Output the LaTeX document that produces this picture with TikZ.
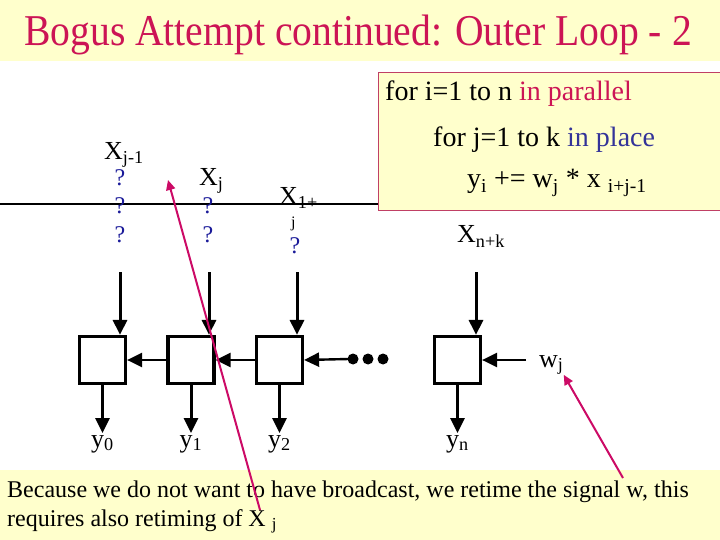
\documentclass[tikz,border=0pt]{standalone}
\usepackage{fontspec}
\setmainfont{Liberation Serif}
\newfontfamily\titulo{Liberation Serif}[FakeStretch=0.9]
\usetikzlibrary{arrows.meta}
\definecolor{fondo}{HTML}{FFFFCC}
\definecolor{carmin}{HTML}{CC1455}
\definecolor{borde}{HTML}{C04065}
\definecolor{rosa}{HTML}{CC0A66}
\definecolor{azul}{HTML}{333399}
\definecolor{pregunta}{HTML}{1A1A99}
\tikzset{
	celda/.style={draw, line width=3.2pt, minimum width=46pt, minimum height=47pt, inner sep=0pt},
	flecha/.style={line width=3pt, -{Triangle[length=15pt,width=14pt]}},
	guia/.style={rosa, line width=2pt, -{Triangle[length=10pt,width=9pt]}},
	etiqueta/.style={anchor=base west, inner sep=0pt, font=\fontsize{26}{26}\selectfont},
	salida/.style={anchor=north, inner sep=2pt, font=\fontsize{26}{26}\selectfont},
	marca/.style={anchor=base, inner sep=0pt, text=pregunta, font=\fontsize{24}{24}\selectfont},
	codigo/.style={anchor=base west, inner sep=0pt, font=\fontsize{28}{28}\selectfont},
	nota/.style={anchor=base west, inner sep=0pt, font=\fontsize{24}{24}\selectfont}
}
\begin{document}
\begin{tikzpicture}[x=1pt, y=-1pt]
	\useasboundingbox (0,0) rectangle (720,540);
	\fill[white] (0,0) rectangle (720,540);
	\fill[fondo] (0,0) rectangle (720,61);
	\fill[fondo] (0,470) rectangle (720,540);
	\node[anchor=base, inner sep=0pt, text=carmin, font=\titulo\fontsize{44}{44}\selectfont] (titulo) at (358,46)
		{Bogus Attempt continued: Outer Loop - 2};

	\draw[line width=1.2pt] (0,204) -- (378,204);
	\node[draw=borde, fill=fondo, line width=1.2pt, minimum width=345pt, minimum height=138pt,
	      anchor=north west, inner sep=0pt] (bucle) at (378,72) {};
	\node[codigo] (linea1) at (385,101) {for i=1 to n {\color{carmin}in parallel}};
	\node[codigo] (linea2) at (433,147) {for j=1 to k {\color{azul}in place}};
	\node[codigo] (linea3) at (467,188) {y\textsubscript{i} += w\textsubscript{j} * x \textsubscript{i+j-1}};

	\node[etiqueta] (xa) at (104,160) {X\textsubscript{j-1}};
	\node[etiqueta] (xb) at (199,186) {X\textsubscript{j}};
	\node[etiqueta] (xc) at (279,205) {X\textsubscript{1+}};
	\node[etiqueta, font=\fontsize{16}{16}\selectfont] (xcj) at (291,228) {j};
	\node[etiqueta] (xd) at (457,243) {X\textsubscript{n+k}};
	\node[etiqueta] (wj) at (539,367) {w\textsubscript{j}};
	\foreach \x/\y [count=\i] in {120/186, 120/214, 120/243, 208/214, 208/243, 295/253}
		\node[marca] (q\i) at (\x,\y) {?};

	\foreach \n/\x in {0/102.5, 1/191, 2/279.5, n/457.5} {
		\node[celda] (pe\n) at (\x,360) {};
		\node[salida] (y\n) at (\x,433) {y\textsubscript{\n}};
		\draw[flecha] (pe\n.south) -- (y\n.north);
	}
	\foreach \n/\x in {0/120, 1/209, 2/297, n/476} {
		\coordinate (ent\n) at (\x,272);
		\draw[flecha] (ent\n) -- (ent\n |- pe\n.north);
	}
	\foreach \x in {353,368,383}
		\fill (\x,359) circle (5.5);
	\node[inner sep=0pt, minimum width=38pt, minimum height=11pt] (puntos) at (368,359) {};
	\draw[flecha, line width=2.4pt] (pe1.west) -- (pe0.east);
	\draw[flecha, line width=2.4pt] (pe2.west) -- (pe1.east);
	\draw[flecha, line width=2.4pt] (puntos.west) -- (pe2.east);
	\draw[flecha, line width=2.4pt, shorten <=13pt] (pen.east -| wj.west) -- (pen.east);

	\node[nota] (nota1) at (7,497) {Because we do not want to have broadcast, we retime the signal w, this};
	\node[nota] (nota2) at (7,526) {requires also retiming of X \textsubscript{j}};

	\coordinate (colaX) at (260,510);
	\coordinate (puntaX) at (168,180);
	\coordinate (colaW) at (623,478);
	\draw[guia] (colaX) -- (puntaX);
	\draw[guia] (colaW) -- (wj.south east);
\end{tikzpicture}
\end{document}
